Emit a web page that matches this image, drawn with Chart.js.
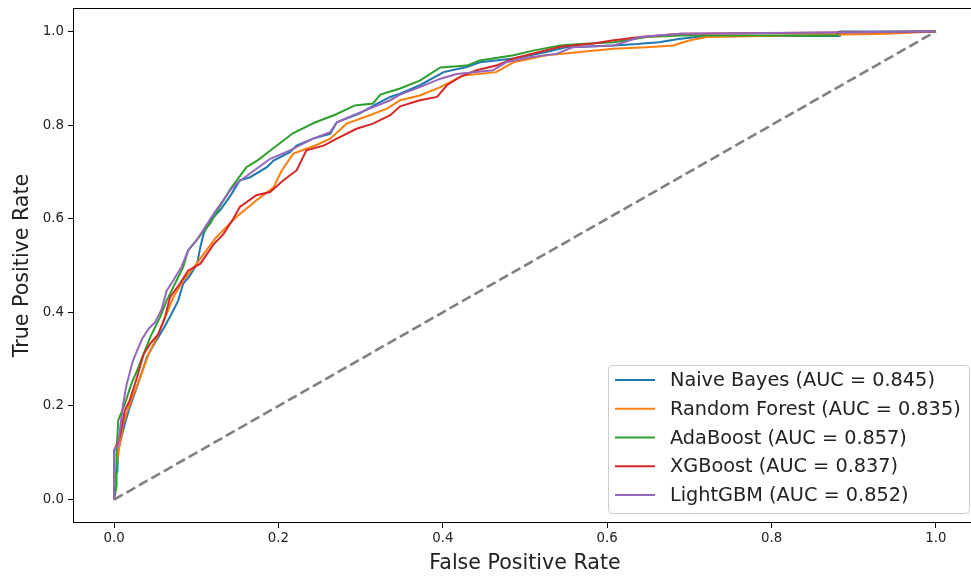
<!DOCTYPE html>
<html>
<head>
<meta charset="utf-8">
<script src="https://cdn.jsdelivr.net/npm/chart.js@4/dist/chart.umd.min.js"></script>
<style>
  html, body { margin: 0; padding: 0; background: #fff; overflow: hidden; }
  canvas { display: block; }
</style>
</head>
<body>
<canvas id="c" width="980" height="576"></canvas>
<script>
// ---- data ----
const modelNames = ["Naive Bayes", "Random Forest", "AdaBoost", "XGBoost", "LightGBM"];
const aucValues = [0.845, 0.835, 0.857, 0.837, 0.852];
const seriesColors = ["#1f77b4", "#ff7f0e", "#2ca02c", "#d62728", "#9467bd"];
const xTickValues = [0.0, 0.2, 0.4, 0.6, 0.8, 1.0];
const yTickValues = [0.0, 0.2, 0.4, 0.6, 0.8, 1.0];
const chanceLine = [[0, 0], [1, 1]];

const naiveBayesROC = [[0,0],[0,0.045],[0.004,0.06],[0.005,0.105],[0.013,0.162],[0.019,0.197],[0.032,0.262],[0.040,0.305],[0.050,0.336],[0.060,0.365],[0.070,0.397],[0.078,0.425],[0.084,0.461],[0.092,0.478],[0.101,0.504],[0.105,0.540],[0.109,0.568],[0.117,0.596],[0.130,0.620],[0.143,0.653],[0.153,0.682],[0.165,0.688],[0.186,0.710],[0.194,0.724],[0.214,0.742],[0.222,0.756],[0.242,0.771],[0.263,0.781],[0.271,0.806],[0.299,0.825],[0.320,0.846],[0.336,0.860],[0.348,0.867],[0.372,0.885],[0.401,0.913],[0.429,0.924],[0.445,0.934],[0.486,0.942],[0.526,0.956],[0.550,0.966],[0.608,0.970],[0.636,0.973],[0.663,0.977],[0.687,0.984],[0.720,0.990],[0.883,0.990],[0.883,1.0],[1,1]];

const randomForestROC = [[0,0],[0.003,0.076],[0.011,0.162],[0.019,0.204],[0.032,0.262],[0.042,0.311],[0.052,0.347],[0.064,0.397],[0.072,0.432],[0.084,0.468],[0.098,0.498],[0.123,0.558],[0.149,0.604],[0.173,0.639],[0.194,0.667],[0.204,0.703],[0.218,0.739],[0.247,0.758],[0.263,0.771],[0.283,0.803],[0.311,0.821],[0.332,0.835],[0.348,0.853],[0.372,0.863],[0.397,0.881],[0.425,0.906],[0.465,0.913],[0.486,0.934],[0.526,0.949],[0.567,0.956],[0.608,0.963],[0.648,0.966],[0.680,0.970],[0.701,0.981],[0.721,0.988],[0.940,0.995],[1,1]];

const adaBoostROC = [[0,0],[0.003,0.03],[0.003,0.10],[0.005,0.169],[0.013,0.204],[0.021,0.247],[0.028,0.276],[0.036,0.311],[0.044,0.347],[0.056,0.390],[0.064,0.425],[0.076,0.468],[0.084,0.496],[0.090,0.532],[0.103,0.560],[0.117,0.590],[0.130,0.630],[0.141,0.662],[0.161,0.710],[0.175,0.725],[0.194,0.751],[0.218,0.783],[0.245,0.806],[0.269,0.822],[0.293,0.842],[0.315,0.846],[0.324,0.865],[0.348,0.878],[0.372,0.895],[0.397,0.923],[0.429,0.927],[0.445,0.938],[0.486,0.949],[0.510,0.959],[0.543,0.970],[0.567,0.973],[0.608,0.977],[0.648,0.988],[0.689,0.991],[0.880,0.991],[0.880,0.998],[1,1]];

const xgBoostROC = [[0,0],[0,0.105],[0.007,0.133],[0.013,0.190],[0.019,0.212],[0.028,0.262],[0.036,0.311],[0.044,0.333],[0.054,0.354],[0.062,0.390],[0.068,0.432],[0.080,0.461],[0.090,0.489],[0.105,0.504],[0.121,0.545],[0.133,0.567],[0.145,0.600],[0.153,0.625],[0.173,0.650],[0.190,0.657],[0.206,0.682],[0.222,0.703],[0.234,0.746],[0.255,0.756],[0.271,0.771],[0.295,0.792],[0.315,0.803],[0.336,0.821],[0.348,0.840],[0.372,0.853],[0.393,0.860],[0.405,0.885],[0.421,0.903],[0.441,0.917],[0.465,0.927],[0.486,0.942],[0.510,0.953],[0.543,0.967],[0.583,0.974],[0.608,0.981],[0.640,0.988],[0.689,0.995],[0.850,0.997],[1,1]];

const lightGBMROC = [[0,0],[0,0.105],[0.005,0.119],[0.011,0.204],[0.015,0.244],[0.023,0.297],[0.028,0.318],[0.034,0.343],[0.042,0.365],[0.050,0.379],[0.058,0.407],[0.064,0.446],[0.072,0.468],[0.082,0.497],[0.090,0.532],[0.100,0.553],[0.123,0.615],[0.141,0.660],[0.149,0.675],[0.165,0.696],[0.190,0.728],[0.214,0.746],[0.242,0.771],[0.263,0.785],[0.271,0.806],[0.295,0.824],[0.315,0.838],[0.336,0.853],[0.348,0.865],[0.372,0.881],[0.397,0.899],[0.417,0.909],[0.461,0.917],[0.477,0.934],[0.506,0.945],[0.538,0.952],[0.558,0.966],[0.608,0.970],[0.640,0.988],[0.689,0.995],[1,1]];

const rocSeries = [naiveBayesROC, randomForestROC, adaBoostROC, xgBoostROC, lightGBMROC];

// ---- chart ----
const FONT = "'DejaVu Sans', 'Liberation Sans', sans-serif";
const TEXT = "#222";
const toXY = arr => arr.map(p => ({ x: p[0], y: p[1] }));

const datasets = rocSeries.map((s, i) => ({
  label: `${modelNames[i]} (AUC = ${aucValues[i].toFixed(3)})`,
  data: toXY(s),
  borderColor: seriesColors[i],
  backgroundColor: seriesColors[i],
  borderWidth: 2,
  showLine: true,
  pointRadius: 0,
  tension: 0,
  order: rocSeries.length - i
}));
datasets.push({
  label: "",
  data: toXY(chanceLine),
  borderColor: "#808080",
  borderWidth: 2.6,
  borderDash: [10, 4.3],
  showLine: true,
  pointRadius: 0,
  order: 0,
  isChance: true
});

const framePlugin = {
  id: "frame",
  afterDatasetsDraw(chart) {
    const { ctx, chartArea: a } = chart;
    ctx.save();
    ctx.strokeStyle = "#000";
    ctx.lineWidth = 1;
    ctx.strokeRect(Math.round(a.left) + 0.5, Math.round(a.top) + 0.5,
                   Math.round(a.right - a.left), Math.round(a.bottom - a.top) - 1);
    ctx.restore();
  }
};

const legendPlugin = {
  id: "mplLegend",
  afterDraw(chart) {
    const { ctx } = chart;
    const items = chart.data.datasets.filter(d => !d.isChance);
    const x0 = 608.5, y0 = 365.5, w = 361, rowH = 28.75;
    const h = 148;
    ctx.save();
    ctx.beginPath();
    ctx.roundRect(x0, y0, w, h, 4);
    ctx.fillStyle = "rgba(255,255,255,0.8)";
    ctx.fill();
    ctx.strokeStyle = "#cccccc";
    ctx.lineWidth = 1;
    ctx.stroke();
    ctx.font = `19.3px ${FONT}`;
    ctx.textBaseline = "middle";
    ctx.textAlign = "left";
    items.forEach((d, i) => {
      const cy = 380 + i * rowH;
      ctx.beginPath();
      ctx.strokeStyle = d.borderColor;
      ctx.lineWidth = 2;
      ctx.moveTo(615, cy);
      ctx.lineTo(655, cy);
      ctx.stroke();
      ctx.fillStyle = TEXT;
      ctx.fillText(d.label, 670, cy + 1);
    });
    ctx.restore();
  }
};

new Chart(document.getElementById("c"), {
  type: "scatter",
  data: { datasets },
  plugins: [framePlugin, legendPlugin],
  options: {
    responsive: false,
    devicePixelRatio: 1,
    animation: false,
    layout: { padding: { top: 8, right: 3, left: 0, bottom: 0 } },
    plugins: { legend: { display: false }, tooltip: { enabled: false } },
    scales: {
      x: {
        type: "linear",
        min: -0.05, max: 1.05,
        afterFit: s => { s.height = 53; s.paddingLeft = 0; s.paddingRight = 0; },
        afterBuildTicks: s => { s.ticks = xTickValues.map(v => ({ value: v })); },
        border: { display: false },
        grid: { drawOnChartArea: false, drawTicks: true, tickLength: 5, color: "#000", tickColor: "#000", lineWidth: 1 },
        ticks: { padding: 3, color: TEXT, font: { family: FONT, size: 13.33 }, maxRotation: 0,
                  callback: v => Number(v).toFixed(1) },
        title: { display: true, text: "False Positive Rate", color: TEXT,
                 font: { family: FONT, size: 20.6 }, padding: { top: 0, bottom: 0 } }
      },
      y: {
        type: "linear",
        min: -0.05, max: 1.05,
        afterFit: s => { s.width = 73; s.paddingTop = 0; s.paddingBottom = 0; },
        afterBuildTicks: s => { s.ticks = yTickValues.map(v => ({ value: v })); },
        border: { display: false },
        grid: { drawOnChartArea: false, drawTicks: true, tickLength: 5, color: "#000", tickColor: "#000", lineWidth: 1 },
        ticks: { padding: 4, color: TEXT, font: { family: FONT, size: 13.33 },
                  callback: v => Number(v).toFixed(1) },
        title: { display: true, text: "True Positive Rate", color: TEXT,
                 font: { family: FONT, size: 20.6 }, padding: { top: 10, bottom: 0 } }
      }
    }
  }
});
</script>
</body>
</html>
